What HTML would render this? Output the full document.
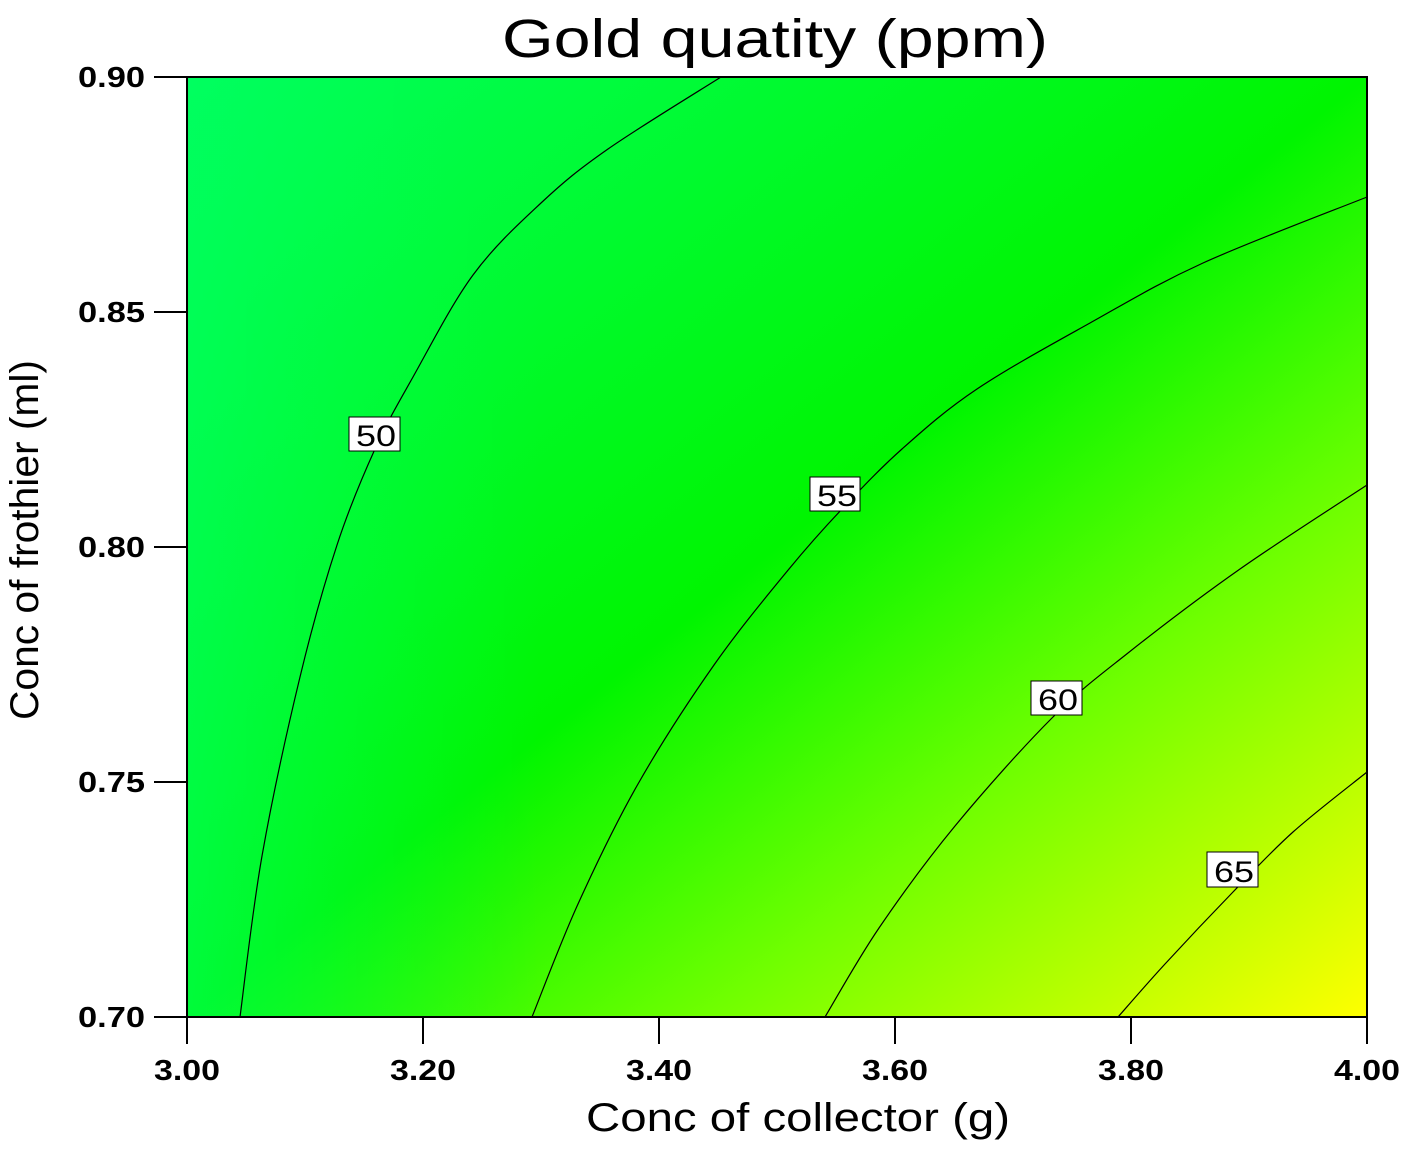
<!DOCTYPE html>
<html><head><meta charset="utf-8"><style>
body{margin:0;background:#fff;}
svg{display:block;font-family:"Liberation Sans",Arial,sans-serif;}
</style></head><body>
<svg id="s" width="1406" height="1149" viewBox="0 0 1406 1149" xmlns="http://www.w3.org/2000/svg">
<defs>
<linearGradient id="g" x1="0" y1="0" x2="1" y2="1">
<stop offset="0" stop-color="#00ff60"/>
<stop offset="0.38" stop-color="#00f818"/>
<stop offset="0.5" stop-color="#00f500"/>
<stop offset="0.72" stop-color="#70ff00"/>
<stop offset="0.88" stop-color="#c0ff00"/>
<stop offset="1" stop-color="#ffff00"/>
</linearGradient>
<linearGradient id="g2" x1="0" y1="0" x2="1" y2="0">
<stop offset="0" stop-color="#00ff60" stop-opacity="0.6"/>
<stop offset="0.3" stop-color="#00ff40" stop-opacity="0"/>
</linearGradient>
</defs>
<text x="502" y="57" font-size="54" textLength="546" lengthAdjust="spacingAndGlyphs">Gold quatity (ppm)</text>
<rect x="187" y="77" width="1180" height="940" fill="url(#g)"/>
<rect x="187" y="77" width="1180" height="940" fill="url(#g2)"/>
<g id="c" fill="none" stroke="#000" stroke-width="1.2"></g>
<rect x="187" y="77" width="1180" height="940" fill="none" stroke="#000" stroke-width="2"/>
<g stroke="#000" stroke-width="2">
<line x1="154" y1="77" x2="187" y2="77"/><line x1="154" y1="312" x2="187" y2="312"/>
<line x1="154" y1="547" x2="187" y2="547"/><line x1="154" y1="782" x2="187" y2="782"/>
<line x1="154" y1="1017" x2="187" y2="1017"/>
<line x1="187" y1="1017" x2="187" y2="1044"/><line x1="423" y1="1017" x2="423" y2="1044"/>
<line x1="659" y1="1017" x2="659" y2="1044"/><line x1="895" y1="1017" x2="895" y2="1044"/>
<line x1="1131" y1="1017" x2="1131" y2="1044"/><line x1="1367" y1="1017" x2="1367" y2="1044"/>
</g>
<g font-size="29" font-weight="bold">
<text x="78" y="87" textLength="67" lengthAdjust="spacingAndGlyphs">0.90</text>
<text x="78" y="322" textLength="67" lengthAdjust="spacingAndGlyphs">0.85</text>
<text x="78" y="557" textLength="67" lengthAdjust="spacingAndGlyphs">0.80</text>
<text x="78" y="792" textLength="67" lengthAdjust="spacingAndGlyphs">0.75</text>
<text x="78" y="1027" textLength="67" lengthAdjust="spacingAndGlyphs">0.70</text>
</g>
<g font-size="29" font-weight="bold">
<text x="154" y="1080" textLength="66" lengthAdjust="spacingAndGlyphs">3.00</text>
<text x="390" y="1080" textLength="66" lengthAdjust="spacingAndGlyphs">3.20</text>
<text x="626" y="1080" textLength="66" lengthAdjust="spacingAndGlyphs">3.40</text>
<text x="862" y="1080" textLength="66" lengthAdjust="spacingAndGlyphs">3.60</text>
<text x="1098" y="1080" textLength="66" lengthAdjust="spacingAndGlyphs">3.80</text>
<text x="1334" y="1080" textLength="66" lengthAdjust="spacingAndGlyphs">4.00</text>
</g>
<text x="586" y="1131" font-size="40" textLength="424" lengthAdjust="spacingAndGlyphs">Conc of collector (g)</text>
<text transform="translate(38,720) rotate(-90)" font-size="40" textLength="360" lengthAdjust="spacingAndGlyphs">Conc of frothier (ml)</text>
<g font-size="30">
<rect x="349" y="417" width="51" height="34" fill="#fff" stroke="#000"/><text x="356" y="446" textLength="40" lengthAdjust="spacingAndGlyphs">50</text>
<rect x="810" y="477" width="50" height="34" fill="#fff" stroke="#000"/><text x="817" y="506" textLength="40" lengthAdjust="spacingAndGlyphs">55</text>
<rect x="1031" y="681" width="51" height="34" fill="#fff" stroke="#000"/><text x="1038" y="710" textLength="40" lengthAdjust="spacingAndGlyphs">60</text>
<rect x="1207" y="852" width="51" height="35" fill="#fff" stroke="#000"/><text x="1214" y="882" textLength="40" lengthAdjust="spacingAndGlyphs">65</text>
</g>
</svg>
<script>
var C=[
[[240,1017],[262,856],[300,677],[337,545],[375,449],[413,377],[473,275],[541,203],[608,149],[721,77]],
[[532,1017],[578,904],[638,784],[714,665],[789,569],[842,509],[902,449],[977,389],[1090,323],[1203,263],[1367,197]],
[[825,1017],[879,928],[955,826],[1052,718],[1128,653],[1240,569],[1367,485]],
[[1118,1017],[1165,964],[1233,892],[1293,832],[1367,772]]];
var g=document.getElementById('c');
C.forEach(function(p){
 var d='M'+p[0][0]+','+p[0][1];
 for(var i=0;i<p.length-1;i++){
  var p0=p[Math.max(0,i-1)],p1=p[i],p2=p[i+1],p3=p[Math.min(p.length-1,i+2)];
  d+=' C'+(p1[0]+(p2[0]-p0[0])/6)+','+(p1[1]+(p2[1]-p0[1])/6)+' '+(p2[0]-(p3[0]-p1[0])/6)+','+(p2[1]-(p3[1]-p1[1])/6)+' '+p2[0]+','+p2[1];
 }
 var e=document.createElementNS('http://www.w3.org/2000/svg','path');e.setAttribute('d',d);g.appendChild(e);
});
</script>
</body></html>
